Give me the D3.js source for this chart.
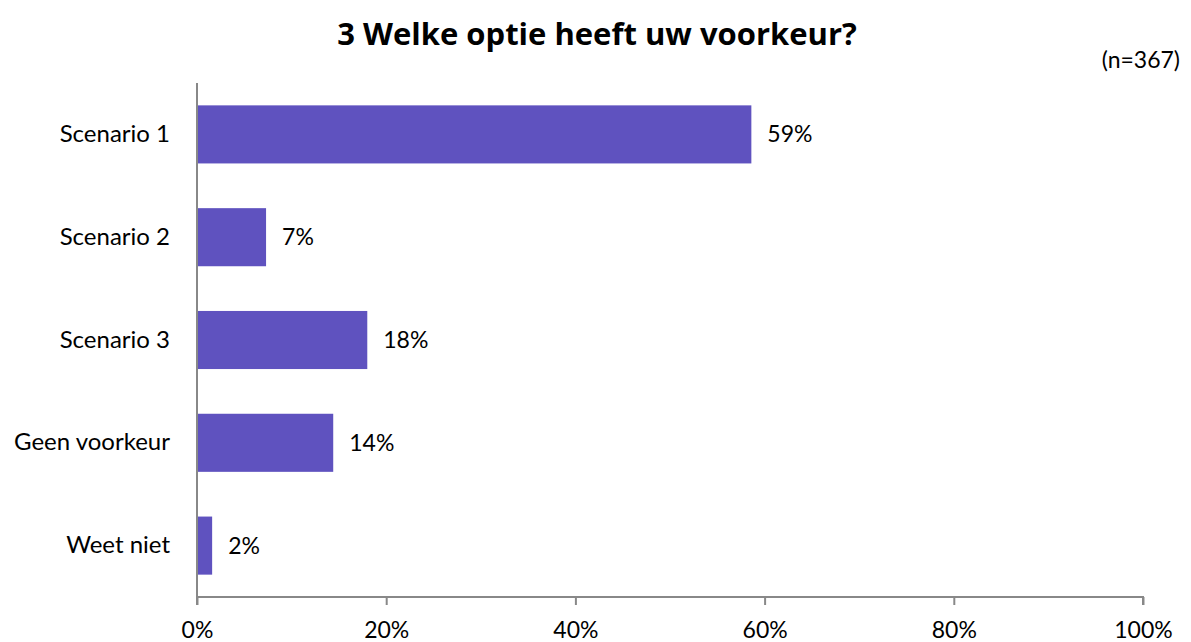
<!DOCTYPE html>
<html><head><meta charset="utf-8">
<script src="https://cdn.jsdelivr.net/npm/d3@7"></script>
<style>body{margin:0;background:#fff;} svg text{font-family:Lato,"Open Sans",sans-serif;}</style>
</head><body>
<svg id="c" width="1191" height="642"></svg>
<script>
const categories = ["Scenario 1","Scenario 2","Scenario 3","Geen voorkeur","Weet niet"];
const values = [58.6, 7.3, 18.0, 14.4, 1.6];
const valueLabels = ["59%","7%","18%","14%","2%"];
const tickValues = [0,20,40,60,80,100];
const title = "3 Welke optie heeft uw voorkeur?";
const note = "(n=367)";

const svg = d3.select("#c");
const mLeft = 197, mRight = 1143, mTop = 83, mBottom = 597;
const x = d3.scaleLinear().domain([0,100]).range([mLeft,mRight]);
const y = d3.scaleBand().domain(categories).range([mTop,mBottom]).paddingInner(0.435).paddingOuter(0.2175);

svg.append("text").attr("x",597).attr("y",45).attr("text-anchor","middle")
  .attr("font-size",31).attr("font-weight","bold").attr("fill","#000")
  .style("font-family","'Open Sans'").text(title);
svg.append("text").attr("x",1180).attr("y",68).attr("text-anchor","end")
  .attr("font-size",23).attr("fill","#000").text(note);

svg.selectAll("rect.bar").data(categories).enter().append("rect")
  .attr("class","bar").attr("x",x(0)).attr("y",d=>y(d))
  .attr("width",(d,i)=>x(values[i])-x(0)).attr("height",y.bandwidth())
  .attr("fill","#5f52bf");

svg.selectAll("text.val").data(categories).enter().append("text")
  .attr("class","val").attr("x",(d,i)=>x(values[i])+16).attr("y",d=>y(d)+y.bandwidth()/2)
  .attr("dy","0.35em").attr("font-size",23).attr("fill","#000").text((d,i)=>valueLabels[i]);

const xAxis = d3.axisBottom(x).tickValues(tickValues).tickFormat(d=>d+"%").tickSize(8).tickPadding(0);
const gx = svg.append("g").attr("transform",`translate(0,${mBottom})`).call(xAxis);
gx.select(".domain").attr("stroke","#888").attr("stroke-width",2).attr("d",`M${mLeft},8V0H${mRight}V8`);
gx.selectAll(".tick line").attr("stroke","#888").attr("stroke-width",2);
gx.selectAll(".tick text").attr("font-size",23).attr("fill","#000").attr("font-family","Lato")
  .attr("dy",null).attr("y",41);

const yAxis = d3.axisLeft(y).tickSize(0).tickPadding(27);
const gy = svg.append("g").attr("transform",`translate(${mLeft},0)`).call(yAxis);
gy.select(".domain").attr("stroke","#888").attr("stroke-width",2).attr("d",`M0,${mTop}V${mBottom}`);
gy.selectAll(".tick text").attr("font-size",24).attr("fill","#000").attr("font-family","Lato");
</script>
</body></html>
